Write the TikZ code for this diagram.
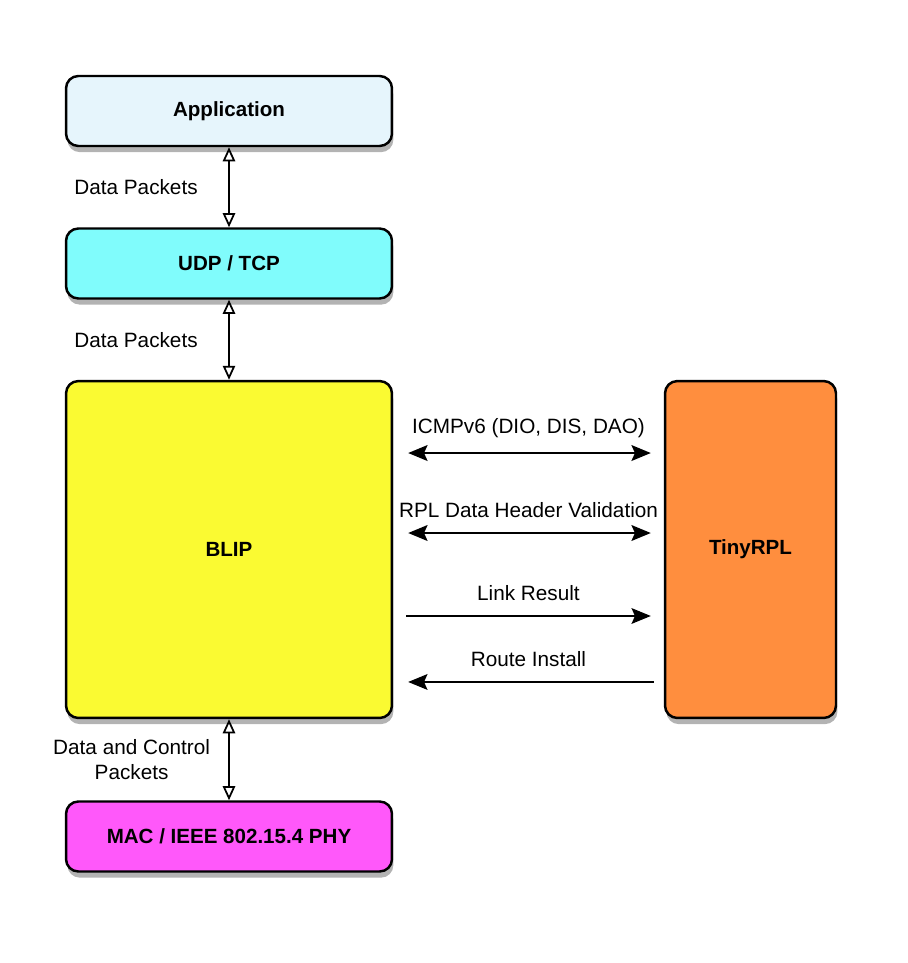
\documentclass[tikz,border=0pt]{standalone}
\usepackage{fontspec}
\setmainfont{Liberation Sans}
\usepackage{tikz}
\usetikzlibrary{arrows.meta,shadows}

\definecolor{appblue}{RGB}{230,245,252}
\definecolor{udpcyan}{RGB}{128,252,252}
\definecolor{blipyellow}{RGB}{250,250,50}
\definecolor{rplorange}{RGB}{255,142,62}
\definecolor{macpink}{RGB}{255,88,250}

\begin{document}
\begin{tikzpicture}[x=0.02cm,y=-0.02cm,auto,
    layer/.style={draw=black,line width=1.4pt,rounded corners=7pt,
        minimum width=6.52cm,minimum height=1.4cm,
        font=\fontsize{11.7}{14}\selectfont\bfseries,
        drop shadow={shadow xshift=0.8pt,shadow yshift=-3.5pt,opacity=0.6}},
    lbl/.style={font=\fontsize{11.8}{14.5}\selectfont},
    updown/.style={{Triangle[open,length=8pt,width=7pt]}-{Triangle[open,length=8pt,width=7pt]},line width=1pt},
    msg/.style={-{Stealth[length=11pt,width=9pt,inset=2pt]}},
    msgboth/.style={{Stealth[length=11pt,width=9pt,inset=2pt]}-{Stealth[length=11pt,width=9pt,inset=2pt]}}]

    \useasboundingbox (0,0) rectangle (907,963);

    % The stack
    \node [layer,fill=appblue] at (229,111) (app) {Application};
    \node [layer,fill=udpcyan] at (229,263.5) (udp) {UDP / TCP};
    \node [layer,fill=blipyellow,minimum height=6.74cm] at (229,549.5) (blip) {BLIP};
    \node [layer,fill=rplorange,minimum width=3.42cm,minimum height=6.74cm] at (750.5,549.5) (rpl) {TinyRPL};
    \node [layer,fill=macpink] at (229,836.5) (mac) {MAC / IEEE 802.15.4 PHY};

    % Between the layers
    \path[updown]
    (app) edge node[lbl,left=14pt] {Data Packets} (udp)
    (udp) edge node[lbl,left=14pt] {Data Packets} (blip)
    (blip) edge node[lbl,left=7pt,align=center] {Data and Control\\Packets} (mac);

    % BLIP and TinyRPL
    \path[line width=1.2pt,shorten <=0.3cm,shorten >=0.26cm]
    ([yshift=1.93cm]blip.east) edge[msgboth] node[lbl,above=5pt] {ICMPv6 (DIO, DIS, DAO)} ([yshift=1.93cm]rpl.west)
    ([yshift=0.33cm]blip.east) edge[msgboth] node[lbl,above=5pt] {RPL Data Header Validation} ([yshift=0.33cm]rpl.west);

    \path[line width=0.6pt]
    ([yshift=-1.33cm]blip.east) edge[msg,shorten <=0.26cm,shorten >=0.26cm] node[lbl,above=5pt] {Link Result} ([yshift=-1.33cm]rpl.west)
    ([yshift=-2.65cm]rpl.west) edge[msg,shorten <=0.2cm,shorten >=0.3cm] node[lbl,above=5pt,swap] {Route Install} ([yshift=-2.65cm]blip.east);
\end{tikzpicture}
\end{document}
